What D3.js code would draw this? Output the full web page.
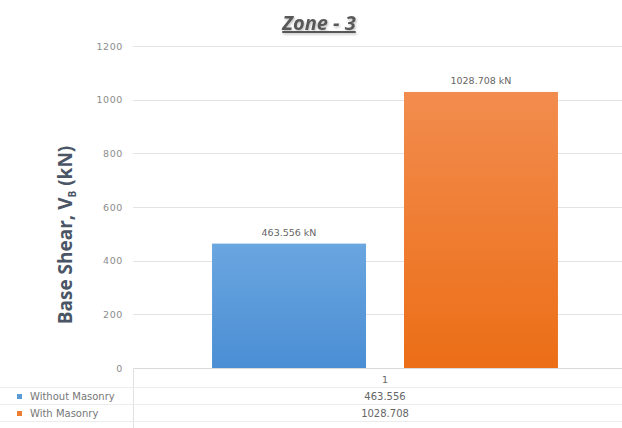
<!DOCTYPE html>
<html>
<head>
<meta charset="utf-8">
<script src="https://cdn.jsdelivr.net/npm/d3@7"></script>
<style>
  html, body { margin: 0; padding: 0; background: #fff; }
  svg { display: block; }
</style>
</head>
<body>
<svg id="chart" width="622" height="428"></svg>
<script>
// Base shear for Zone 3, with and without masonry infill
const categories = ["1"];
const seriesNames = ["Without Masonry", "With Masonry"];
const withoutMasonry = [463.556];
const withMasonry = [1028.708];
const yTicks = [0, 200, 400, 600, 800, 1000, 1200];
const seriesColors = ["#5b9bd5", "#ed7d31"];

const seriesValues = [withoutMasonry, withMasonry];

const svg = d3.select("#chart");
const W = 622, H = 428;
const plot = { left: 133, right: 637, top: 46, bottom: 368 };
const smallFont = "DejaVu Sans, Verdana, sans-serif";

const defs = svg.append("defs");
const grads = [
  ["gBlue", "#6aa6e0", "#4b8ed4"],
  ["gOrange", "#f28c4e", "#ec6e16"]
];
grads.forEach(([id, c1, c2]) => {
  const g = defs.append("linearGradient").attr("id", id)
    .attr("x1", 0).attr("y1", 0).attr("x2", 0).attr("y2", 1);
  g.append("stop").attr("offset", "0%").attr("stop-color", c1);
  g.append("stop").attr("offset", "100%").attr("stop-color", c2);
});
const shadow = defs.append("filter").attr("id", "tshadow")
  .attr("x", "-20%").attr("y", "-20%").attr("width", "140%").attr("height", "160%");
shadow.append("feDropShadow").attr("dx", 1).attr("dy", 1.5)
  .attr("stdDeviation", 1.2).attr("flood-color", "#000").attr("flood-opacity", 0.25);

const y = d3.scaleLinear().domain([0, 1200]).range([plot.bottom, plot.top]);
const x0 = d3.scaleBand().domain(categories).range([plot.left, plot.right])
  .paddingInner(0.186).paddingOuter(0.186);
const x1 = d3.scaleBand().domain(seriesNames).range([0, x0.bandwidth()])
  .paddingInner(0.198).paddingOuter(0);

// Title
svg.append("text")
  .attr("x", 319).attr("y", 30)
  .attr("text-anchor", "middle")
  .attr("font-family", "Open Sans, Liberation Sans, sans-serif")
  .attr("font-size", 20).attr("font-weight", "bold").attr("font-style", "italic")
  .attr("text-decoration", "underline")
  .attr("fill", "#595959")
  .attr("filter", "url(#tshadow)")
  .text("Zone - 3");

// Gridlines
svg.append("g")
  .selectAll("line").data(yTicks.filter(d => d > 0)).join("line")
  .attr("x1", plot.left).attr("x2", W)
  .attr("y1", d => Math.round(y(d)) + 0.5).attr("y2", d => Math.round(y(d)) + 0.5)
  .attr("stroke", "#e3e3e3").attr("stroke-width", 1);

// Y axis tick labels
const yAxis = d3.axisLeft(y).tickValues(yTicks).tickFormat(d3.format("d"))
  .tickSize(0).tickPadding(0);
const gy = svg.append("g").attr("transform", `translate(${plot.left - 10},0)`).call(yAxis);
gy.select(".domain").remove();
gy.selectAll("text")
  .attr("font-family", smallFont)
  .attr("font-size", 9.5).attr("letter-spacing", 0.6).attr("fill", "#8c8c8c");

// Y axis title
const yTitle = svg.append("text")
  .attr("transform", "translate(72,235) rotate(-90)")
  .attr("text-anchor", "middle")
  .attr("font-family", "Open Sans, Liberation Sans, sans-serif")
  .attr("font-size", 19).attr("font-weight", "bold")
  .attr("fill", "#4a5566");
yTitle.append("tspan").text("Base Shear, V");
yTitle.append("tspan").attr("font-size", 10).attr("dy", 4).text("B");
yTitle.append("tspan").attr("dy", -4).text(" (kN)");

// Bars
const gBars = svg.append("g");
categories.forEach((cat, ci) => {
  seriesNames.forEach((s, si) => {
    const v = seriesValues[si][ci];
    const bx = x0(cat) + x1(s);
    gBars.append("rect")
      .attr("x", bx).attr("y", y(v))
      .attr("width", x1.bandwidth()).attr("height", y(0) - y(v))
      .attr("fill", si === 0 ? "url(#gBlue)" : "url(#gOrange)");
    gBars.append("text")
      .attr("x", bx + x1.bandwidth() / 2).attr("y", y(v) - 8)
      .attr("text-anchor", "middle")
      .attr("font-family", smallFont)
      .attr("font-size", 9.5).attr("fill", "#666")
      .text(d3.format(".3f")(v) + " kN");
  });
});

// Baseline
svg.append("line")
  .attr("x1", plot.left).attr("x2", W)
  .attr("y1", plot.bottom + 0.5).attr("y2", plot.bottom + 0.5)
  .attr("stroke", "#d9d9d9");

// Data table below the chart
const rowY = [387, 404, 421];
const table = svg.append("g");
table.append("line")
  .attr("x1", plot.left + 0.5).attr("x2", plot.left + 0.5)
  .attr("y1", plot.bottom).attr("y2", H)
  .attr("stroke", "#e0e0e0");
rowY.forEach(ry => {
  table.append("line")
    .attr("x1", 0).attr("x2", W)
    .attr("y1", ry + 0.5).attr("y2", ry + 0.5)
    .attr("stroke", "#ececec");
});
const colX = x0(categories[0]) + x0.bandwidth() / 2;
table.append("text")
  .attr("x", colX).attr("y", 383)
  .attr("text-anchor", "middle")
  .attr("font-family", smallFont)
  .attr("font-size", 9.5).attr("fill", "#666")
  .text(categories[0]);
seriesNames.forEach((s, si) => {
  const cy = 400 + si * 17;
  table.append("rect")
    .attr("x", 17).attr("y", cy - 6).attr("width", 5).attr("height", 5)
    .attr("fill", seriesColors[si]);
  table.append("text")
    .attr("x", 30).attr("y", cy)
    .attr("font-family", smallFont)
    .attr("font-size", 10).attr("fill", "#777")
    .text(s);
  table.append("text")
    .attr("x", colX).attr("y", cy)
    .attr("text-anchor", "middle")
    .attr("font-family", smallFont)
    .attr("font-size", 10).attr("fill", "#666")
    .text(d3.format(".3f")(seriesValues[si][0]));
});
</script>
</body>
</html>
